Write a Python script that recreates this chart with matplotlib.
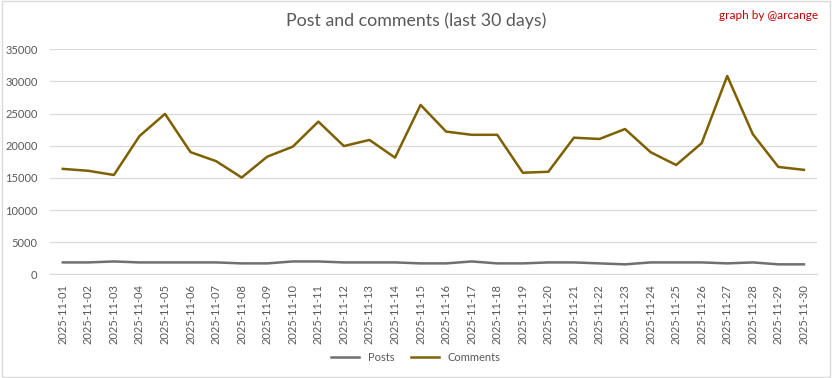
import matplotlib.pyplot as plt
from matplotlib.patches import Rectangle

dates = ["2025-11-%02d" % d for d in range(1, 31)]

posts = [1850, 1850, 2000, 1850, 1850, 1850, 1850, 1700, 1700, 2000,
         2000, 1850, 1850, 1850, 1700, 1700, 2000, 1700, 1700, 1850,
         1850, 1700, 1550, 1850, 1850, 1850, 1700, 1850, 1550, 1550]

comments = [16400, 16100, 15450, 21500, 24950, 19000, 17600, 15050, 18300, 19850,
            23750, 19950, 20900, 18150, 26350, 22200, 21700, 21700, 15800, 15950,
            21250, 21050, 22600, 19000, 17000, 20400, 30850, 21800, 16700, 16250]

plt.rcParams['font.family'] = ['Lato', 'DejaVu Sans']

fig = plt.figure(figsize=(8.32, 3.78), dpi=100)
ax = fig.add_axes([0.0601, 0.2743, 0.9215, 0.5953])

x = list(range(len(dates)))
ax.plot(x, posts, color='#707070', lw=1.8, label='Posts')
ax.plot(x, comments, color='#7f6000', lw=1.8, label='Comments')

ax.set_xlim(-0.5, len(dates) - 0.5)
ax.set_ylim(0, 35000)
ax.set_yticks(range(0, 35001, 5000))
ax.set_xticks(x)
ax.set_xticklabels(dates, rotation=90)
ax.tick_params(axis='both', length=0, colors='#595959', labelsize=8)
ax.tick_params(axis='y', pad=9)
ax.tick_params(axis='x', pad=7)
ax.grid(axis='y', color='#d9d9d9', lw=0.9)
ax.set_axisbelow(True)
for s in ['top', 'right', 'left']:
    ax.spines[s].set_visible(False)
ax.spines['bottom'].set_color('#d9d9d9')

fig.text(0.5, 0.945, 'Post and comments (last 30 days)', ha='center', va='center',
         fontsize=12.8, color='#595959')
fig.text(0.983, 0.958, 'graph by @arcange', ha='right', va='center',
         fontsize=8.5, color='#c00000')

ax.legend(loc='center', bbox_to_anchor=(0.5, 0.055), bbox_transform=fig.transFigure,
          ncol=2, frameon=False, fontsize=8, labelcolor='#595959',
          handlelength=2.5, columnspacing=1.5)

fig.patches.append(Rectangle((0.002, 0.003), 0.996, 0.994, transform=fig.transFigure,
                             fill=False, edgecolor='#d9d9d9', lw=1))

fig.savefig('out.png', dpi=100)
